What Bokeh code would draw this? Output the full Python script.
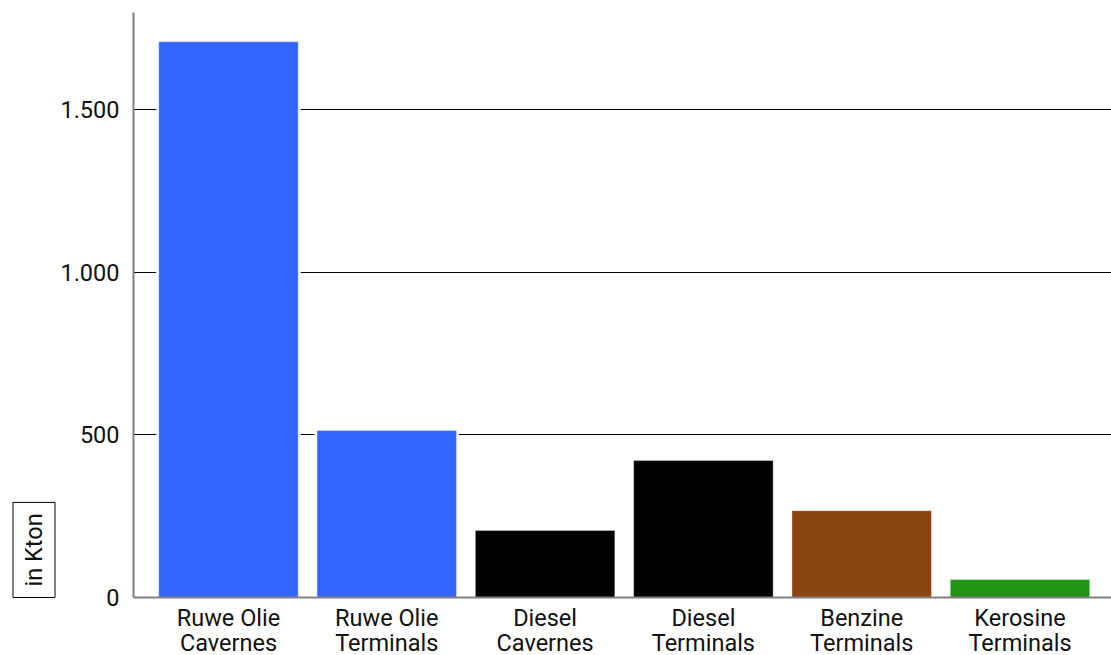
from bokeh.plotting import figure
from bokeh.models import Range1d, FixedTicker, Title, ColumnDataSource
from bokeh.embed import file_html
from bokeh.resources import INLINE

categories = ["Ruwe Olie\nCavernes", "Ruwe Olie\nTerminals", "Diesel\nCavernes",
              "Diesel\nTerminals", "Benzine\nTerminals", "Kerosine\nTerminals"]
values = [1708, 513, 206, 421, 267, 55]
colors = ["#3366FF", "#3366FF", "#000000", "#000000", "#8B4513", "#229415"]
y_ticks = [0, 500, 1000, 1500]
y_tick_labels = ["0", "500", "1.000", "1.500"]
y_axis_title = "in Kton"

FONT = "Roboto"
FS = "23.5px"

x_pos = [i + 0.5 for i in range(len(categories))]
src = ColumnDataSource(dict(x=x_pos, top=values, color=colors))

p = figure(frame_width=978, frame_height=585,
           x_range=Range1d(-0.1, 6.078), y_range=Range1d(0, 1798),
           output_backend="svg", toolbar_location=None,
           min_border_left=133, min_border_right=0, min_border_top=12, min_border_bottom=58)
p.outline_line_color = None
p.background_fill_color = "white"
p.border_fill_color = "white"

# white halo behind bars (interrupts the grid lines), then the coloured bars
p.vbar(x="x", top="top", width=0.881, bottom=0, source=src,
       fill_color="white", line_color="white", line_width=5)
p.vbar(x="x", top="top", width=0.881, bottom=0, source=src,
       fill_color="color", line_color="white", line_alpha=0.35, line_width=1)

# axes
p.xgrid.grid_line_color = None
p.ygrid.grid_line_color = "black"
p.ygrid.grid_line_width = 1
p.ygrid.ticker = FixedTicker(ticks=y_ticks)

p.yaxis.ticker = FixedTicker(ticks=y_ticks)
p.yaxis.major_label_overrides = {t: l for t, l in zip(y_ticks, y_tick_labels)}
p.xaxis.ticker = FixedTicker(ticks=x_pos)
p.xaxis.major_label_overrides = {x: c for x, c in zip(x_pos, categories)}

for ax in (p.xaxis[0], p.yaxis[0]):
    ax.major_tick_line_color = None
    ax.minor_tick_line_color = None
    ax.axis_line_color = "#808080"
    ax.axis_line_width = 2
    ax.major_label_text_font = FONT
    ax.major_label_text_font_size = FS
    ax.major_label_text_color = "#111111"

p.yaxis.major_label_standoff = 8
p.xaxis.major_label_standoff = 0
p.xaxis.major_label_text_line_height = 0.91

t = Title(text=y_axis_title, align="left", text_font=FONT, text_font_size=FS,
          text_font_style="normal", text_color="#111111",
          border_line_color="black", border_line_width=1,
          background_fill_color="white", padding=dict(x=11, y=7), standoff=5)
p.add_layout(t, "left")

open("out.html", "w").write(file_html(p, INLINE))
